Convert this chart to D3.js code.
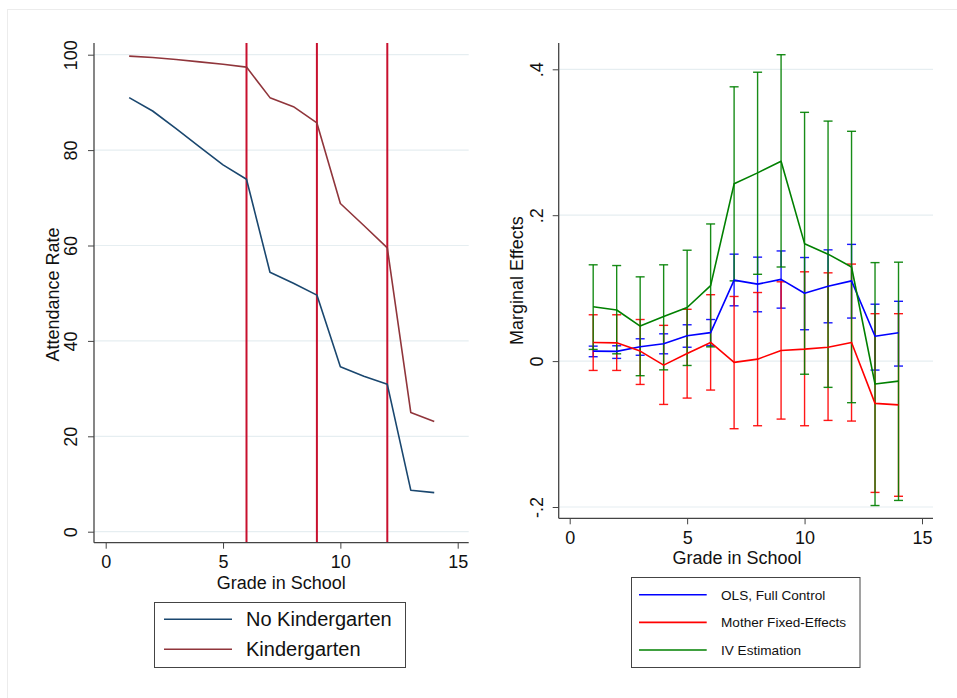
<!DOCTYPE html>
<html>
<head>
<meta charset="utf-8">
<script src="https://cdn.jsdelivr.net/npm/d3@7"></script>
<style>
  html, body { margin: 0; padding: 0; background: #ffffff; }
  svg text { font-family: "Liberation Sans", Arial, Helvetica, sans-serif; fill: #111; }
</style>
</head>
<body>
<svg id="chart" width="957" height="698"></svg>
<script>
// ---------- DATA ----------
const grades = [1,2,3,4,5,6,7,8,9,10,11,12,13,14];
const noKinder = [91.0, 88.2, 84.5, 80.7, 76.9, 73.9, 54.4, 52.1, 49.6, 34.6, 32.6, 30.9, 8.7, 8.2];
const kinder   = [99.7, 99.4, 99.0, 98.5, 98.0, 97.4, 91.0, 89.1, 85.7, 68.8, 64.2, 59.5, 25.0, 23.1];
const cutoffGrades = [6, 9, 12];

const olsEst   = [0.0137, 0.0133, 0.0196, 0.0237, 0.0347, 0.0390, 0.111, 0.1055, 0.112, 0.093, 0.1027, 0.110, 0.034, 0.0388];
const olsHi    = [0.0205, 0.0210, 0.0306, 0.0374, 0.0498, 0.0570, 0.1466, 0.1425, 0.151, 0.142, 0.1525, 0.160, 0.078, 0.082];
const olsLo    = [0.0060, 0.0037, 0.0080, 0.0100, 0.0190, 0.0210, 0.0758, 0.0676, 0.0726, 0.043, 0.0525, 0.059, -0.0123, -0.0068];

const mfeEst   = [0.0256, 0.0250, 0.0137, -0.0055, 0.0105, 0.0256, -0.0018, 0.0027, 0.0146, 0.0164, 0.0190, 0.0256, -0.058, -0.060];
const mfeHi    = [0.0635, 0.0635, 0.0570, 0.0490, 0.0710, 0.0910, 0.0886, 0.0940, 0.1087, 0.1224, 0.1210, 0.1330, 0.065, 0.065];
const mfeLo    = [-0.0128, -0.0128, -0.0320, -0.0594, -0.0507, -0.0397, -0.0927, -0.0886, -0.0795, -0.0886, -0.0813, -0.0822, -0.180, -0.1853];

const ivEst    = [0.0744, 0.0700, 0.0480, 0.0610, 0.0735, 0.1035, 0.243, 0.258, 0.274, 0.161, 0.1466, 0.129, -0.0315, -0.0274];
const ivHi     = [0.132, 0.131, 0.1155, 0.132, 0.152, 0.188, 0.376, 0.396, 0.420, 0.341, 0.329, 0.315, 0.135, 0.1356];
const ivLo     = [0.0160, 0.0100, -0.0200, -0.0120, -0.0060, 0.0195, 0.110, 0.119, 0.129, -0.018, -0.036, -0.057, -0.198, -0.191];

const leftYTicks = [0, 20, 40, 60, 80, 100];
const rightYTicks = [-0.2, 0, 0.2, 0.4];
const xTicks = [0, 5, 10, 15];
const rightYTickLabels = ["-.2", "0", ".2", ".4"];

const leftSeries = [
  { name: "No Kindergarten", values: noKinder, color: "#1a476f" },
  { name: "Kindergarten", values: kinder, color: "#90353b" }
];
const rightSeries = [
  { name: "OLS, Full Control", est: olsEst, hi: olsHi, lo: olsLo, color: "#0000ff" },
  { name: "Mother Fixed-Effects", est: mfeEst, hi: mfeHi, lo: mfeLo, color: "#ff0000" },
  { name: "IV Estimation", est: ivEst, hi: ivHi, lo: ivLo, color: "#008000" }
];

// ---------- LAYOUT ----------
const svg = d3.select("#chart");
const axisColor = "#444";
const gridColor = "#e6eef1";

// outer faint frame
svg.append("rect").attr("x", 7.5).attr("y", 9.5).attr("width", 1000).attr("height", 1000)
  .attr("fill", "none").attr("stroke", "#ececec").attr("stroke-width", 1);

function styleAxis(g) {
  g.select(".domain").remove();
  g.selectAll(".tick line").attr("stroke", axisColor).attr("stroke-width", 1);
  g.selectAll(".tick text").attr("font-size", 18).attr("fill", "#111");
}

// ======== LEFT PANEL ========
const L = { axisX: 94, top: 43, axisY: 542.7, right: 468.7 };
const xL = d3.scaleLinear().domain([0, 15]).range([105.7, 457.7]);
const yL = d3.scaleLinear().domain([0, 100]).range([531.7, 54.7]);

const gl = svg.append("g");
// grid
gl.selectAll("line.grid").data(leftYTicks).join("line")
  .attr("x1", L.axisX).attr("x2", L.right)
  .attr("y1", d => yL(d)).attr("y2", d => yL(d))
  .attr("stroke", gridColor).attr("stroke-width", 1.2);

// vertical cutoff lines
gl.selectAll("line.cut").data(cutoffGrades).join("line")
  .attr("x1", d => xL(d)).attr("x2", d => xL(d))
  .attr("y1", L.top).attr("y2", L.axisY)
  .attr("stroke", "#c8102e").attr("stroke-width", 2);

// series lines
const lineL = d3.line().x((d, i) => xL(grades[i])).y(d => yL(d));
leftSeries.forEach(s => {
  gl.append("path").datum(s.values).attr("d", lineL)
    .attr("fill", "none").attr("stroke", s.color).attr("stroke-width", 1.6)
    .attr("stroke-linejoin", "round");
});

// axes
const axLY = gl.append("g").attr("transform", `translate(${L.axisX},0)`)
  .call(d3.axisLeft(yL).tickValues(leftYTicks).tickSize(6).tickFormat(d3.format("d")));
styleAxis(axLY);
axLY.selectAll(".tick text").attr("transform", "rotate(-90)")
  .attr("x", 0).attr("y", -17).attr("dy", 0).attr("text-anchor", "middle");

const axLX = gl.append("g").attr("transform", `translate(0,${L.axisY})`)
  .call(d3.axisBottom(xL).tickValues(xTicks).tickSize(6).tickFormat(d3.format("d")));
styleAxis(axLX);
axLX.selectAll(".tick text").attr("y", 25.5).attr("dy", 0);

gl.append("line").attr("x1", L.axisX).attr("x2", L.axisX).attr("y1", L.top).attr("y2", L.axisY)
  .attr("stroke", axisColor).attr("stroke-width", 1.3);
gl.append("line").attr("x1", L.axisX).attr("x2", L.right).attr("y1", L.axisY).attr("y2", L.axisY)
  .attr("stroke", axisColor).attr("stroke-width", 1.3);

// titles
gl.append("text").attr("transform", `translate(59,294.5) rotate(-90)`)
  .attr("text-anchor", "middle").attr("font-size", 18).text("Attendance Rate");
gl.append("text").attr("x", 281.2).attr("y", 589).attr("text-anchor", "middle")
  .attr("font-size", 18).text("Grade in School");

// legend
const lgL = gl.append("g");
lgL.append("rect").attr("x", 154.5).attr("y", 602.5).attr("width", 251).attr("height", 65)
  .attr("fill", "#fff").attr("stroke", axisColor).attr("stroke-width", 1);
leftSeries.forEach((s, i) => {
  const yy = 619.3 + i * 30;
  lgL.append("line").attr("x1", 164).attr("x2", 232).attr("y1", yy).attr("y2", yy)
    .attr("stroke", s.color).attr("stroke-width", 1.6);
  lgL.append("text").attr("x", 246).attr("y", yy + 7).attr("font-size", 20).text(s.name);
});

// ======== RIGHT PANEL ========
const R = { axisX: 558.7, top: 43, axisY: 518.3, right: 933 };
const xR = d3.scaleLinear().domain([0, 15]).range([569.7, 922]);
const yR = d3.scaleLinear().domain([-0.2, 0.4]).range([507, 69.3]);

const gr = svg.append("g");
gr.selectAll("line.grid").data(rightYTicks).join("line")
  .attr("x1", R.axisX).attr("x2", R.right)
  .attr("y1", d => yR(d)).attr("y2", d => yR(d))
  .attr("stroke", gridColor).attr("stroke-width", 1.2);

const lineR = d3.line().x((d, i) => xR(grades[i])).y(d => yR(d));
const capW = 4.5;
rightSeries.forEach(s => {
  const g = gr.append("g");
  grades.forEach((gd, i) => {
    const x = xR(gd);
    g.append("line").attr("x1", x).attr("x2", x).attr("y1", yR(s.lo[i])).attr("y2", yR(s.hi[i]))
      .attr("stroke", s.color).attr("stroke-width", 1.4).attr("opacity", 0.9);
    [s.lo[i], s.hi[i]].forEach(v => {
      g.append("line").attr("x1", x - capW).attr("x2", x + capW).attr("y1", yR(v)).attr("y2", yR(v))
        .attr("stroke", s.color).attr("stroke-width", 1.4).attr("opacity", 0.9);
    });
  });
});
rightSeries.forEach(s => {
  gr.append("path").datum(s.est).attr("d", lineR)
    .attr("fill", "none").attr("stroke", s.color).attr("stroke-width", 1.6)
    .attr("stroke-linejoin", "round");
});

const axRY = gr.append("g").attr("transform", `translate(${R.axisX},0)`)
  .call(d3.axisLeft(yR).tickValues(rightYTicks).tickSize(6)
    .tickFormat((d, i) => rightYTickLabels[i]));
styleAxis(axRY);
axRY.selectAll(".tick text").attr("transform", "rotate(-90)")
  .attr("x", 0).attr("y", -16).attr("dy", 0).attr("text-anchor", "middle");

const axRX = gr.append("g").attr("transform", `translate(0,${R.axisY})`)
  .call(d3.axisBottom(xR).tickValues(xTicks).tickSize(6).tickFormat(d3.format("d")));
styleAxis(axRX);
axRX.selectAll(".tick text").attr("y", 25.7).attr("dy", 0);

gr.append("line").attr("x1", R.axisX).attr("x2", R.axisX).attr("y1", R.top).attr("y2", R.axisY)
  .attr("stroke", axisColor).attr("stroke-width", 1.3);
gr.append("line").attr("x1", R.axisX).attr("x2", R.right).attr("y1", R.axisY).attr("y2", R.axisY)
  .attr("stroke", axisColor).attr("stroke-width", 1.3);

gr.append("text").attr("transform", `translate(523,280.6) rotate(-90)`)
  .attr("text-anchor", "middle").attr("font-size", 18).text("Marginal Effects");
gr.append("text").attr("x", 737).attr("y", 564).attr("text-anchor", "middle")
  .attr("font-size", 18).text("Grade in School");

const lgR = gr.append("g");
lgR.append("rect").attr("x", 631.5).attr("y", 577.5).attr("width", 228.5).attr("height", 90)
  .attr("fill", "#fff").attr("stroke", axisColor).attr("stroke-width", 1);
rightSeries.forEach((s, i) => {
  const yy = 594.7 + i * 27.65;
  lgR.append("line").attr("x1", 639).attr("x2", 706.7).attr("y1", yy).attr("y2", yy)
    .attr("stroke", s.color).attr("stroke-width", 1.6);
  lgR.append("text").attr("x", 721).attr("y", yy + 5).attr("font-size", 13.6).text(s.name);
});
</script>
</body>
</html>
